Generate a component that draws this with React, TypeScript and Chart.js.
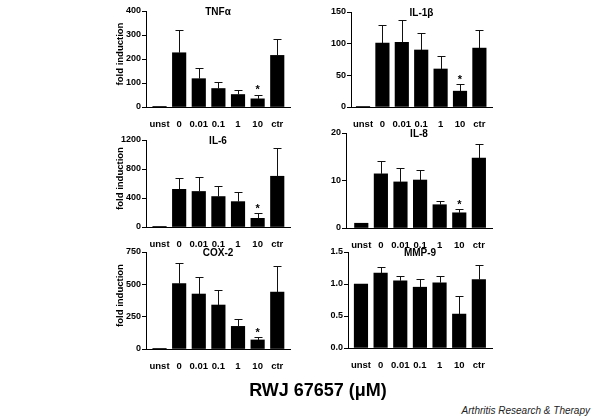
import React, { useEffect, useRef } from 'react';
import { Chart, registerables } from 'chart.js';
Chart.register(...registerables);

const FONT = '"Liberation Sans", Arial, sans-serif';

const categories = ['unst', '0', '0.01', '0.1', '1', '10', 'ctr'];

const tnfMean = [1, 226, 118, 77, 52, 34, 215];
const tnfSem = [0, 93, 45, 28, 20, 18, 70];

const il1bMean = [1, 101, 102, 90, 60, 25, 93];
const il1bSem = [0, 29, 36, 27, 20, 11, 29];

const il6Mean = [1, 520, 490, 420, 350, 120, 700];
const il6Sem = [0, 160, 200, 140, 130, 70, 390];

const il8Mean = [1.0, 11.4, 9.7, 10.1, 4.9, 3.2, 14.7];
const il8Sem = [0, 2.7, 3.0, 2.2, 0.8, 0.7, 3.0];

const cox2Mean = [1, 505, 425, 340, 175, 70, 440];
const cox2Sem = [0, 160, 130, 120, 55, 20, 200];

const mmp9Mean = [1.0, 1.17, 1.05, 0.95, 1.02, 0.53, 1.07];
const mmp9Sem = [0, 0.09, 0.07, 0.13, 0.11, 0.29, 0.22];

const starIndex = 5;

type Panel = {
  title: string;
  mean: number[];
  sem: number[];
  star: boolean;
  max: number;
  step: number;
  decimals: number;
  yLabel: boolean;
  axisX: number;
  top: number;
  zero: number;
  right: number;
  xMin: number;
  xMax: number;
};

const panels: Panel[] = [
  { title: 'TNFα', mean: tnfMean, sem: tnfSem, star: true, max: 400, step: 100, decimals: 0, yLabel: true, axisX: 146, top: 11, zero: 107, right: 290, xMin: -0.69, xMax: 6.65 },
  { title: 'IL-1β', mean: il1bMean, sem: il1bSem, star: true, max: 150, step: 50, decimals: 0, yLabel: false, axisX: 351, top: 12, zero: 107, right: 492, xMin: -0.62, xMax: 6.65 },
  { title: 'IL-6', mean: il6Mean, sem: il6Sem, star: true, max: 1200, step: 400, decimals: 0, yLabel: true, axisX: 146, top: 140, zero: 227, right: 290, xMin: -0.69, xMax: 6.65 },
  { title: 'IL-8', mean: il8Mean, sem: il8Sem, star: true, max: 20, step: 10, decimals: 0, yLabel: false, axisX: 346, top: 133, zero: 228, right: 492, xMin: -0.78, xMax: 6.67 },
  { title: 'COX-2', mean: cox2Mean, sem: cox2Sem, star: true, max: 750, step: 250, decimals: 0, yLabel: true, axisX: 146, top: 252, zero: 349, right: 290, xMin: -0.69, xMax: 6.65 },
  { title: 'MMP-9', mean: mmp9Mean, sem: mmp9Sem, star: false, max: 1.5, step: 0.5, decimals: 1, yLabel: false, axisX: 348, top: 252, zero: 348, right: 492, xMin: -0.66, xMax: 6.67 },
];

const PAD_L = 40;
const PAD_T = 16;
const PAD_B = 22;
const PAD_R = 2;

function makeDecor(p: Panel) {
  return {
    id: 'decor',
    afterDatasetsDraw(chart: any) {
      const ctx = chart.ctx;
      const meta = chart.getDatasetMeta(0);
      const ys = chart.scales.y;
      const ca = chart.chartArea;
      ctx.save();
      ctx.strokeStyle = '#111';
      ctx.lineWidth = 1;
      p.mean.forEach((m, i) => {
        const s = p.sem[i];
        if (!s) return;
        const bar = meta.data[i];
        const x = Math.round(bar.x) + 0.5;
        const yt = Math.round(ys.getPixelForValue(m + s)) + 0.5;
        ctx.beginPath();
        ctx.moveTo(x, bar.y);
        ctx.lineTo(x, yt);
        ctx.moveTo(x - 4, yt);
        ctx.lineTo(x + 4, yt);
        ctx.stroke();
      });
      ctx.fillStyle = '#000';
      if (p.star) {
        const bar = meta.data[starIndex];
        const yt = ys.getPixelForValue(p.mean[starIndex] + p.sem[starIndex]);
        ctx.font = `bold 11px ${FONT}`;
        ctx.textAlign = 'center';
        ctx.textBaseline = 'alphabetic';
        ctx.fillText('*', bar.x, yt - 1.3);
      }
      ctx.font = `bold 10px ${FONT}`;
      ctx.textAlign = 'center';
      ctx.textBaseline = 'middle';
      ctx.fillText(p.title, (ca.left + ca.right) / 2, ca.top + 1);
      if (p.yLabel) {
        ctx.save();
        ctx.translate(ca.left - 26, (ca.top + ca.bottom) / 2 - 5);
        ctx.rotate(-Math.PI / 2);
        ctx.font = `bold 9.5px ${FONT}`;
        ctx.fillText('fold induction', 0, 0);
        ctx.restore();
      }
      ctx.restore();
    },
  };
}

function PanelChart({ p }: { p: Panel }) {
  const ref = useRef<HTMLCanvasElement>(null);
  const width = PAD_L + (p.right - p.axisX) + PAD_R;
  const height = PAD_T + (p.zero - p.top) + PAD_B;
  useEffect(() => {
    if (!ref.current) return;
    const chart = new Chart(ref.current, {
      type: 'bar',
      data: {
        datasets: [
          {
            data: p.mean.map((v, i) => ({ x: i, y: v })),
            backgroundColor: '#000',
            borderWidth: 0,
            barThickness: 13.5,
          } as any,
        ],
      },
      options: {
        responsive: false,
        animation: false,
        devicePixelRatio: 1,
        layout: { padding: { left: 0, top: PAD_T, right: PAD_R, bottom: 0 } },
        plugins: { legend: { display: false }, tooltip: { enabled: false }, title: { display: false } },
        scales: {
          x: {
            type: 'linear',
            min: p.xMin,
            max: p.xMax,
            offset: false,
            grid: { display: false },
            border: { display: true, color: '#000', width: 1 },
            ticks: {
              stepSize: 1,
              includeBounds: false,
              autoSkip: false,
              maxRotation: 0,
              padding: 4,
              color: '#000',
              font: { family: FONT, size: 9.5, weight: 'bold' },
              callback: (v: any) => (Number.isInteger(v) && categories[v] !== undefined ? categories[v] : ''),
            },
            afterFit: (s: any) => { s.height = PAD_B; },
          },
          y: {
            min: 0,
            max: p.max,
            grid: { drawOnChartArea: false, drawTicks: true, tickLength: 4, color: '#000' },
            border: { display: true, color: '#000', width: 1 },
            ticks: {
              stepSize: p.step,
              padding: 1,
              color: '#000',
              font: { family: FONT, size: 9, weight: 'bold' },
              callback: (v: any) => Number(v).toFixed(p.decimals),
            },
            afterFit: (s: any) => { s.width = PAD_L; },
          },
        },
      } as any,
      plugins: [makeDecor(p)],
    });
    return () => chart.destroy();
  }, []);
  return (
    <canvas
      ref={ref}
      width={width}
      height={height}
      style={{ position: 'absolute', left: p.axisX - PAD_L, top: p.top - PAD_T, width, height }}
    />
  );
}

export default function App() {
  return (
    <div style={{ position: 'absolute', left: 0, top: 0, width: 600, height: 419, background: '#fff', overflow: 'hidden', fontFamily: FONT }}>
      {panels.map((p) => (
        <PanelChart key={p.title} p={p} />
      ))}
      <div style={{ position: 'absolute', left: 318, top: 381, transform: 'translateX(-50%)', fontSize: 18, lineHeight: '18px', fontWeight: 'bold', whiteSpace: 'nowrap', color: '#000' }}>
        RWJ 67657 (μM)
      </div>
      <div style={{ position: 'absolute', right: 10, top: 405.5, fontSize: 10, lineHeight: '10px', fontStyle: 'italic', whiteSpace: 'nowrap', color: '#222' }}>
        Arthritis Research &amp; Therapy
      </div>
    </div>
  );
}
